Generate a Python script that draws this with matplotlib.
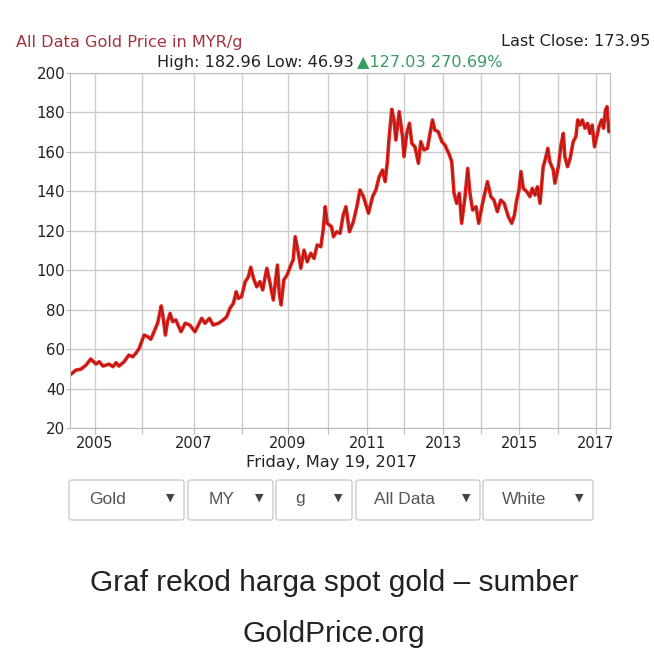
import numpy as np
import matplotlib.pyplot as plt
from matplotlib.patches import FancyBboxPatch

# gold price in MYR per gram (decimal years)
years = [2004.47, 2004.60, 2004.70, 2004.81, 2004.91, 2005.02, 2005.09, 2005.17,
         2005.30, 2005.38, 2005.45, 2005.51, 2005.62, 2005.72, 2005.80, 2005.87,
         2005.94, 2006.04, 2006.11, 2006.17, 2006.23, 2006.30, 2006.37, 2006.40,
         2006.45, 2006.49, 2006.54, 2006.59, 2006.65, 2006.75, 2006.83, 2006.92,
         2007.02, 2007.09, 2007.16, 2007.23, 2007.32, 2007.40, 2007.51, 2007.61,
         2007.68, 2007.75, 2007.82, 2007.88, 2007.92, 2007.99, 2008.07, 2008.14,
         2008.19, 2008.25, 2008.32, 2008.39, 2008.45, 2008.54, 2008.61, 2008.68,
         2008.77, 2008.81, 2008.85, 2008.91, 2008.98, 2009.09, 2009.13, 2009.18,
         2009.26, 2009.32, 2009.40, 2009.48, 2009.57, 2009.65, 2009.73, 2009.82,
         2009.88, 2009.93, 2009.98, 2010.09, 2010.14, 2010.22, 2010.31, 2010.39,
         2010.46, 2010.55, 2010.65, 2010.74, 2010.82, 2010.91, 2011.04, 2011.15,
         2011.24, 2011.33, 2011.42, 2011.49, 2011.55, 2011.60, 2011.67, 2011.73,
         2011.78, 2011.87, 2011.96, 2012.00, 2012.07, 2012.14, 2012.20, 2012.28,
         2012.37, 2012.43, 2012.51, 2012.60, 2012.67, 2012.73, 2012.79, 2012.88,
         2012.97, 2013.05, 2013.17, 2013.23, 2013.29, 2013.36, 2013.43, 2013.49,
         2013.58, 2013.65, 2013.71, 2013.78, 2013.87, 2013.94, 2014.04, 2014.17,
         2014.26, 2014.34, 2014.43, 2014.52, 2014.61, 2014.72, 2014.81, 2014.88,
         2014.94, 2015.00, 2015.05, 2015.11, 2015.20, 2015.28, 2015.34, 2015.41,
         2015.47, 2015.54, 2015.62, 2015.67, 2015.74, 2015.79, 2015.88, 2015.92,
         2016.01, 2016.08, 2016.14, 2016.18, 2016.25, 2016.32, 2016.40, 2016.47,
         2016.52, 2016.58, 2016.64, 2016.71, 2016.78, 2016.84, 2016.90, 2016.96,
         2017.02, 2017.08, 2017.15, 2017.20, 2017.25, 2017.29, 2017.34, 2017.37]
price = [46.9, 49.4, 49.8, 51.9, 55.0, 52.4, 53.6, 51.4,
         52.4, 51.1, 53.1, 51.4, 53.6, 57.0, 56.1, 57.9,
         60.4, 67.1, 66.3, 65.0, 68.8, 73.1, 81.9, 77.3,
         67.1, 73.9, 78.1, 73.9, 74.8, 68.8, 73.1, 72.2,
         68.8, 72.2, 75.6, 73.1, 75.6, 72.2, 73.1, 74.8,
         76.4, 80.7, 83.2, 89.1, 85.7, 86.6, 94.2, 96.7,
         101.5, 95.9, 91.6, 94.2, 90.0, 101.0, 93.4, 84.9,
         102.6, 88.3, 82.4, 95.1, 97.6, 103.5, 105.2, 117.0,
         108.6, 101.0, 110.2, 104.3, 108.6, 106.0, 112.8, 111.9,
         120.4, 132.2, 123.8, 122.1, 117.0, 119.5, 118.7, 128.0,
         132.2, 119.5, 124.6, 132.2, 140.7, 137.3, 128.9, 137.3,
         140.7, 147.4, 150.8, 144.9, 155.0, 167.7, 181.6, 176.2,
         166.0, 180.4, 167.7, 157.6, 169.4, 174.5, 164.3, 162.6,
         154.2, 165.2, 161.0, 161.8, 169.4, 176.2, 171.1, 170.2,
         165.2, 163.5, 158.4, 155.0, 139.0, 133.9, 139.0, 123.8,
         137.3, 151.6, 139.0, 130.5, 132.2, 123.8, 133.9, 144.9,
         137.3, 135.6, 129.7, 135.6, 133.9, 127.1, 123.8, 128.0,
         135.6, 140.7, 150.0, 141.5, 139.8, 137.3, 141.5, 138.1,
         142.3, 133.9, 152.5, 155.9, 161.8, 155.0, 150.8, 144.1,
         152.5, 163.5, 169.4, 157.6, 152.5, 156.7, 165.2, 167.7,
         176.2, 173.6, 176.2, 172.0, 174.5, 169.4, 173.6, 162.6,
         167.7, 172.8, 176.2, 172.0, 181.2, 182.9, 170.2, 171.0]

tick_years = list(range(2005, 2018))
y_ticks = list(range(20, 201, 20))
menu_labels = ['Gold', 'MY', 'g', 'All Data', 'White']

# the site's time axis is not linear: years get narrower towards the right
year_knots = [2004.47] + tick_years + [2017.37]
knot_pos = [70, 95, 142, 194, 242, 288, 328, 367, 404, 443, 481, 519, 558, 596, 610]


def fwd(x):
    return np.interp(x, year_knots, knot_pos)


def inv(p):
    return np.interp(p, knot_pos, year_knots)


W = H = 654
fig = plt.figure(figsize=(6.54, 6.54), dpi=100)
ax = fig.add_axes([70 / W, 1 - 428 / H, 540 / W, 355 / H])

ax.plot(years, price, color='#e8241d', lw=2.6, solid_joinstyle='round')
ax.plot(years, price, color='#8e1616', lw=0.6)

ax.set_xscale('function', functions=(fwd, inv))
ax.set_xlim(year_knots[0], year_knots[-1])
ax.set_ylim(20, 200)
ax.set_xticks(tick_years)
ax.set_xticklabels([str(y) if y % 2 else '' for y in tick_years])
ax.set_yticks(y_ticks)
ax.grid(True, color='#cccccc', lw=1)
ax.set_axisbelow(True)
for s in ax.spines.values():
    s.set_color('#bbbbbb')
ax.tick_params(colors='#bbbbbb', labelcolor='#222222', labelsize=10.5,
               length=4, pad=2)
ax.tick_params(axis='y', length=3, pad=0.5, labelsize=10.8)

# header texts
fig.text(16 / W, 1 - 42 / H, 'All Data Gold Price in MYR/g', color='#a3343f',
         fontsize=11.6, va='center', ha='left')
fig.text(650 / W, 1 - 42 / H, 'Last Close: 173.95', color='#222222',
         fontsize=11.6, va='center', ha='right')
fig.text(354 / W, 1 - 62 / H, 'High: 182.96 Low: 46.93', color='#222222',
         fontsize=11.6, va='center', ha='right')
fig.text(357 / W, 1 - 62 / H, '\u25b2127.03 270.69%', color='#3a9a62',
         fontsize=11.6, va='center', ha='left')
fig.text(331 / W, 1 - 463 / H, 'Friday, May 19, 2017', color='#222222',
         fontsize=11.7, va='center', ha='center')

# dropdown menus
boxes = [(69, 184), (188, 273), (276, 352), (356, 480), (483, 593)]
text_x = [108, 222, 300, 405, 524]
for (x0, x1), tx, lab in zip(boxes, text_x, menu_labels):
    fig.add_artist(FancyBboxPatch((x0 / W, 1 - 520 / H), (x1 - x0) / W, 40 / H,
                                  boxstyle='round,pad=0,rounding_size=0.004',
                                  transform=fig.transFigure, fc='white',
                                  ec='#cccccc', lw=1))
    fig.text(tx / W, 1 - 499 / H, lab, color='#555555', fontsize=12.5,
             family='Liberation Sans', va='center', ha='center')
    fig.text((x1 - 14) / W, 1 - 498 / H, '\u25bc', color='#444444', fontsize=8,
             va='center', ha='center')

# caption
fig.text(334 / W, 1 - 583 / H, 'Graf rekod harga spot gold \u2013 sumber',
         color='#222222', fontsize=21.5, family='Liberation Sans',
         va='center', ha='center')
fig.text(334 / W, 1 - 634 / H, 'GoldPrice.org', color='#222222', fontsize=21.5,
         family='Liberation Sans', va='center', ha='center')

fig.savefig('out.png', dpi=100, facecolor='white')
